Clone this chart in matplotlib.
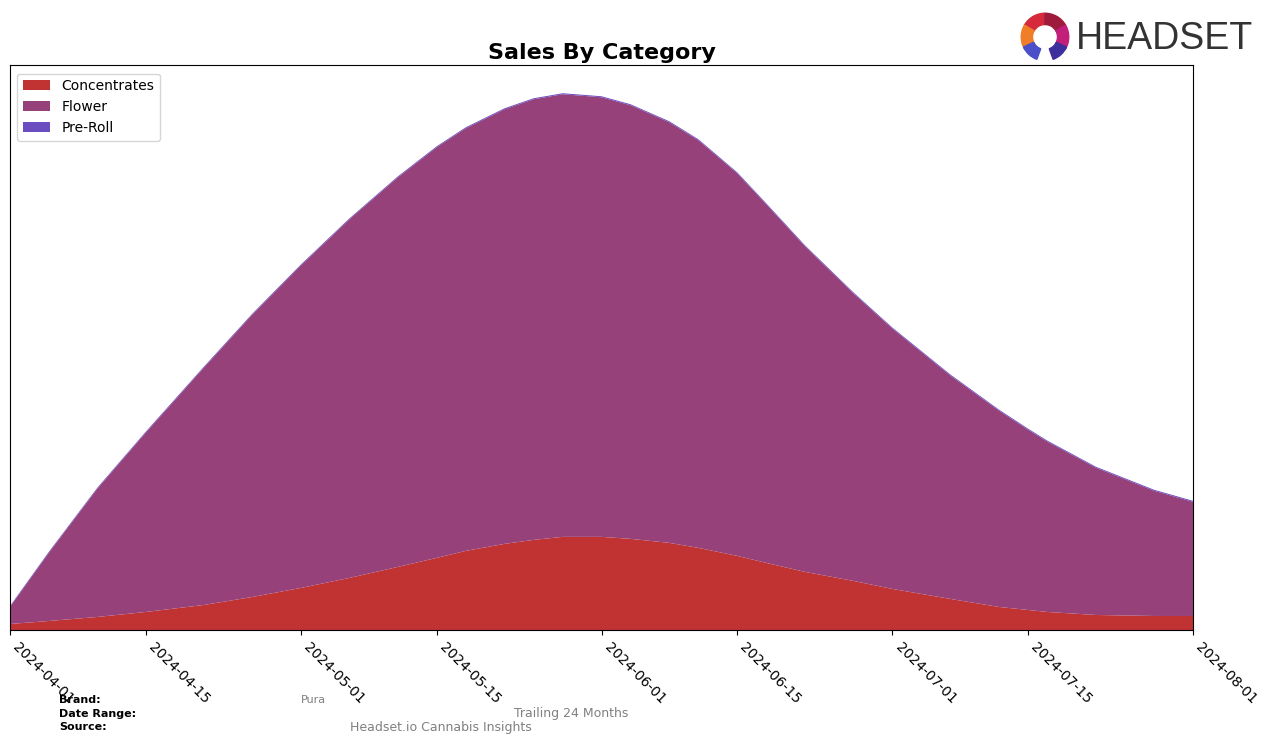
import matplotlib
matplotlib.use("Agg")
import matplotlib.pyplot as plt
from matplotlib.patches import Wedge
import pandas as pd

# values (no y axis, arbitrary units)
dates = ["2024-04-01", "2024-04-05", "2024-04-10", "2024-04-15", "2024-04-21",
         "2024-04-26", "2024-05-01", "2024-05-06", "2024-05-11", "2024-05-15",
         "2024-05-18", "2024-05-22", "2024-05-25", "2024-05-28", "2024-06-01",
         "2024-06-04", "2024-06-08", "2024-06-11", "2024-06-15", "2024-06-18",
         "2024-06-22", "2024-06-27", "2024-07-01", "2024-07-07", "2024-07-12",
         "2024-07-15", "2024-07-17", "2024-07-22", "2024-07-28", "2024-08-01"]
concentrates = [6, 9, 13, 18, 25, 33, 42, 52, 63, 72, 79, 86, 90, 93, 93,
                91, 87, 82, 74, 67, 58, 49, 41, 31, 23, 20, 18, 15, 14, 14]
flower = [17, 68, 128, 179, 237, 282, 322, 358, 389, 410, 422, 434, 440, 442, 439,
          433, 420, 407, 382, 358, 325, 287, 260, 223, 196, 180, 170, 147, 125, 114]
preroll = [1, 1, 1, 1, 1, 1, 1, 1, 1, 1, 1, 1, 1, 1, 1,
           1, 1, 1, 1, 1, 1, 1, 1, 1, 1, 1, 1, 1, 1, 1]
categories = ["Concentrates", "Flower", "Pre-Roll"]
colors = ["#C13232", "#964179", "#6B4DC1"]
tick_dates = ["2024-04-01", "2024-04-15", "2024-05-01", "2024-05-15", "2024-06-01",
              "2024-06-15", "2024-07-01", "2024-07-15", "2024-08-01"]

x = pd.to_datetime(dates)
ticks = pd.to_datetime(tick_dates)

fig = plt.figure(figsize=(12.7, 7.43), dpi=100)
ax = fig.add_axes([10 / 1270, 113 / 743, 1183 / 1270, 565 / 743])

ax.stackplot(x, concentrates, flower, preroll, labels=categories, colors=colors)

top = max(c + f + p for c, f, p in zip(concentrates, flower, preroll))
ax.set_ylim(0, top / 0.95)
ax.set_xlim(x[0], x[-1])
ax.set_yticks([])
ax.set_xticks(ticks)
ax.set_xticklabels(tick_dates, rotation=-45, ha="left", fontsize=10)
ax.set_title("Sales By Category", fontsize=16, fontweight="bold", pad=4)
ax.legend(loc="upper left", fontsize=10, bbox_to_anchor=(0, 0.997))

# footer
fig.text(59 / 1270, 1 - 700 / 743, "Brand:", fontsize=8, fontweight="bold", va="center")
fig.text(59 / 1270, 1 - 714 / 743, "Date Range:", fontsize=8, fontweight="bold", va="center")
fig.text(59 / 1270, 1 - 727 / 743, "Source:", fontsize=8, fontweight="bold", va="center")
fig.text(301 / 1270, 1 - 700 / 743, "Pura", fontsize=8, color="gray", va="center")
fig.text(514 / 1270, 1 - 713 / 743, "Trailing 24 Months", fontsize=9, color="gray", va="center")
fig.text(350 / 1270, 1 - 727 / 743, "Headset.io Cannabis Insights", fontsize=9, color="gray", va="center")

# logo
fig.text(1076 / 1270, 1 - 39 / 743, "HEADSET", fontsize=27, color="#333333", va="center",
         family=["Liberation Sans", "DejaVu Sans"])
lax = fig.add_axes([1020 / 1270, 1 - 62 / 743, 50 / 1270, 50 / 743])
lax.set_xlim(-1, 1)
lax.set_ylim(-1, 1)
lax.set_aspect("equal")
lax.axis("off")
segs = [(90, 150, "#D62A3C"), (30, 90, "#9E1B3C"), (150, 210, "#F07D28"),
        (-30, 30, "#C21F7A"), (205, 250, "#4B4FC8"), (290, 335, "#3D2F9C")]
for a0, a1, c in segs:
    lax.add_patch(Wedge((0, 0), 0.95, a0, a1, width=0.45, color=c))

fig.savefig("out.png", dpi=100)
